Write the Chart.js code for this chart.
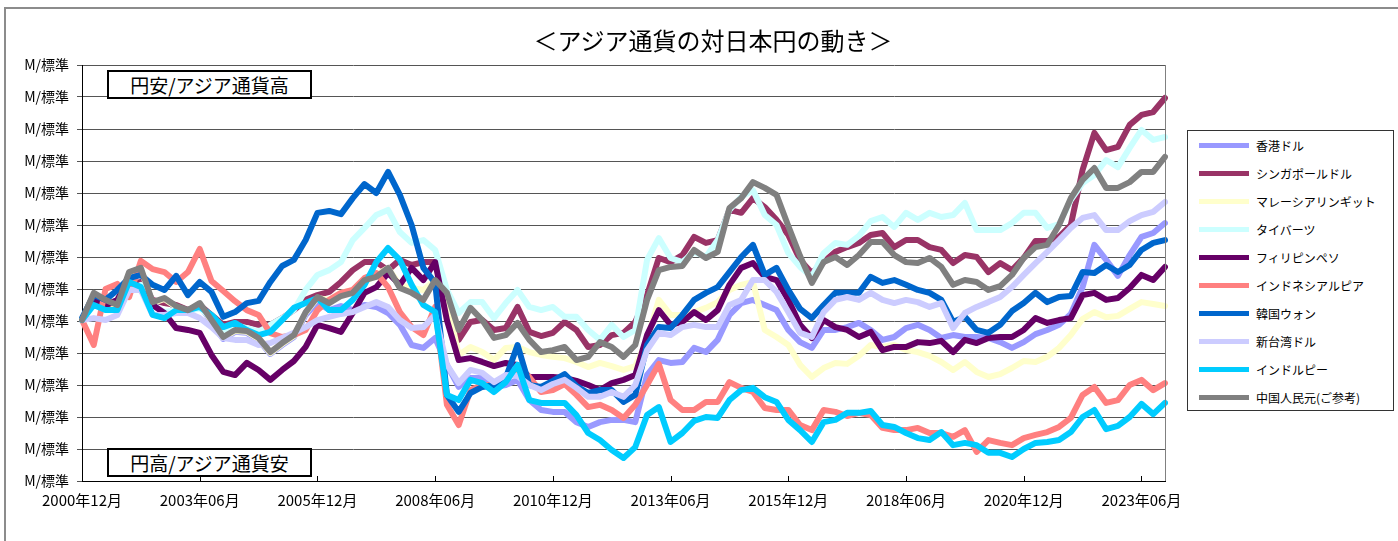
<!DOCTYPE html>
<html lang="ja">
<head>
<meta charset="utf-8">
<script src="https://cdn.jsdelivr.net/npm/chart.js@4.4.1/dist/chart.umd.min.js"></script>
<style>
body { margin: 0; background: #fff; font-family: "Noto Sans CJK JP", sans-serif; }
#wrap { position: relative; width: 1398px; height: 541px; overflow: hidden; }
#frame { position: absolute; left: 4px; top: 7px; width: 1420px; height: 620px; border: 2px solid #8c8c8c; }
#myChart { position: absolute; left: 0; top: 0; }
#title { position: absolute; left: 0; width: 1426px; top: 22px; text-align: center; font-size: 24px; color: #000; }
.note { position: absolute; left: 107px; width: 201px; height: 25px; border: 2px solid #000; background: #fff; font-size: 19px; line-height: 25px; text-align: center; color: #000; }
#legend { position: absolute; left: 1187px; top: 130px; width: 205px; height: 279px; border: 1px solid #333; background: #fff; }
.row { height: 28px; display: flex; align-items: center; font-size: 12px; color: #000; }
.swatch { width: 50px; height: 5px; margin-left: 11px; margin-right: 7px; }
</style>
</head>
<body>
<div id="wrap">
<div id="frame"></div>
<canvas id="myChart" width="1398" height="541"></canvas>
<div id="title">＜アジア通貨の対日本円の動き＞</div>
<div class="note" style="top:70px">円安/アジア通貨高</div>
<div class="note" style="top:448px">円高/アジア通貨安</div>
<div id="legend"></div>
</div>
<script>
// quarterly index values, 2000/12 = 100
var hkd = [100.3, 108.1, 105.9, 104.4, 114.7, 115.9, 105.6, 106.6, 104.1, 102.8,
105, 99.7, 94.4, 96.6, 96.3, 94.1, 89.7, 92.5, 95, 101.9,
105.9, 103.4, 104.7, 103.4, 105, 104.4, 102.5, 98.8, 92.5, 91.6,
94.7, 86.3, 79.4, 82.2, 82.2, 79.4, 80, 81.6, 75.3, 72.2,
71.6, 71.6, 68.4, 66.9, 68.4, 69.1, 69.1, 68.4, 83.1, 87.8,
86.9, 87.2, 91.6, 90.3, 94.1, 101.9, 105.6, 106.6, 105, 103.4,
97.2, 93.4, 91.6, 97.2, 97.2, 98.1, 99.4, 97.2, 94.1, 95,
97.8, 98.8, 97.2, 94.7, 95.6, 95, 95, 94.7, 93.4, 91.6,
93.4, 95.9, 97.2, 98.8, 102.2, 110.6, 123.8, 119.1, 114.1, 120.6,
126.3, 127.5, 130.6];

var sgd = [100.3, 106.6, 105, 104.1, 111.3, 112.2, 106.6, 105.6, 105, 103.4,
105, 101.9, 98.8, 99.7, 99.7, 98.8, 98.8, 100.9, 103.4, 106.6,
108.1, 109.1, 112.2, 115.9, 118.4, 118.4, 115.9, 119.1, 117.5, 118.4,
118.4, 108.1, 94.1, 99.7, 100.3, 97.2, 97.8, 104.4, 96.6, 95.3,
96.3, 99.7, 97.2, 91.9, 92.5, 95.6, 96.3, 99.7, 108.1, 119.7,
118.4, 120.6, 126.3, 124.4, 125.3, 134.7, 133.8, 138.4, 135.6, 131.6,
126.9, 119.1, 115, 118.4, 121.6, 123.1, 124.4, 126.9, 127.5, 123.1,
125.3, 125.3, 123.1, 122.2, 118.1, 120.6, 120, 115.3, 118.1, 115.9,
119.7, 125, 125, 126.3, 130, 147.2, 158.8, 153.4, 154.4, 161.3,
164.4, 165.3, 169.7];

var myr = [100.3, 108.4, 106.2, 104.7, 115, 116.2, 105.6, 106.9, 104.4, 103.1,
105.3, 100, 94.7, 96.9, 96.6, 94.4, 90, 92.8, 95.3, 102.5,
107.2, 106.6, 108.8, 109.7, 112.2, 114.4, 116.6, 111.3, 110.3, 109.7,
112.8, 106.6, 89.4, 91.9, 90.3, 87.8, 91.6, 91.9, 90.3, 89.4,
88.8, 88.4, 87.2, 85.6, 86.9, 85.9, 84.7, 85.9, 94.1, 106.6,
101.9, 101.9, 102.8, 104.1, 105.9, 109.7, 111.3, 112.2, 97.2, 95,
92.5, 86.3, 82.5, 85.3, 86.9, 86.6, 89.1, 92.5, 91.9, 92.5,
90.9, 90.3, 89.1, 87.2, 84.7, 87.2, 84.1, 82.5, 83.4, 85.3,
87.5, 87.2, 88.8, 91.6, 95.6, 100.6, 102.8, 101.2, 101.6, 103.8,
105.9, 105.3, 104.7];

var thb = [100.3, 105, 103.4, 103.4, 109.1, 111.3, 105, 102.8, 103.4, 102.8,
104.1, 100.9, 97.2, 98.8, 97.8, 96.6, 98.8, 100.9, 103.4, 109.7,
114.4, 115.9, 118.4, 125.3, 129.1, 133.1, 134.7, 127.8, 124.4, 125.3,
122.2, 109.7, 102.5, 105.9, 105.9, 100.9, 105.6, 109.7, 104.4, 103.4,
104.4, 101.3, 101.3, 97.2, 94.1, 98.8, 95, 97.2, 119.1, 125.9,
119.7, 118.4, 121.6, 120, 125.3, 134.7, 138.8, 140.9, 133.1, 130,
121.2, 116.9, 113.8, 121.2, 124.4, 123.8, 126.6, 131.2, 132.5, 129.4,
133.8, 131.6, 133.8, 132.5, 133.1, 136.9, 128.4, 128.4, 128.4, 130.6,
133.8, 133.8, 129.1, 130.3, 137.8, 143.1, 145.6, 150.3, 148.1, 154.1,
159.7, 156.6, 157.5];

var php = [100.3, 106.6, 105, 106.6, 113.4, 109.7, 105, 102.5, 97.8, 97.2,
96.3, 89.4, 84.1, 83.1, 86.9, 84.7, 81.6, 84.7, 87.5, 91.9,
98.8, 97.8, 96.6, 102.5, 108.8, 110.6, 115, 111.3, 116.6, 112.8,
118.4, 100.3, 87.8, 88.4, 87.2, 85.9, 86.9, 86.3, 82.5, 82.5,
82.5, 82.2, 81.3, 80, 78.4, 80.6, 81.6, 83.1, 95.6, 103.4,
98.8, 99.7, 102.8, 100.3, 103.4, 111.3, 116.6, 118.1, 113.8, 112.8,
106.6, 98.8, 94.7, 100.3, 98.1, 97.2, 95, 96.6, 90.9, 91.9,
91.9, 93.4, 93.1, 93.8, 90.3, 94.1, 93.1, 94.7, 95, 95,
97.2, 100.9, 99.4, 100.3, 100.9, 108.1, 108.8, 106.6, 107.2, 110.3,
114.4, 112.8, 116.9];

var idr = [100.3, 92.5, 110, 111.6, 107.5, 118.8, 116.2, 115.3, 112.2, 115.3,
122.5, 112.5, 109.4, 106.2, 103.4, 101.9, 96.2, 95, 95.6, 97.2,
103.4, 106.6, 108.8, 109.7, 113.4, 115, 110.6, 102.8, 98.1, 95.6,
104.4, 73.8, 67.5, 78.4, 80, 80, 82.2, 85.3, 82.5, 77.8,
78.4, 80.3, 76.9, 73.1, 73.8, 72.2, 69.7, 73.8, 80, 86.6,
75.3, 72.2, 72.2, 74.7, 74.7, 80.9, 79.1, 77.8, 72.8, 72.2,
72.2, 67.5, 65.9, 72.2, 71.6, 70.3, 71.3, 70.6, 66.6, 65.9,
65.9, 66.6, 65, 65, 63.8, 65.9, 59.1, 62.8, 61.9, 61.2,
63.4, 64.4, 65.3, 66.9, 69.7, 76.9, 79.4, 74.4, 75.3, 80,
81.6, 78.4, 80.6];

var krw = [100.9, 108.1, 106.6, 109.7, 113.4, 114.4, 111.3, 109.7, 114.1, 108.1,
112.2, 109.1, 101.3, 102.8, 105.6, 106.3, 112.2, 117.2, 119.1, 125.3,
133.8, 134.4, 133.4, 138.4, 142.8, 140, 146.6, 139.4, 130, 116.6,
111.9, 76.9, 71.6, 77.5, 79.4, 80, 82.2, 92.5, 80, 79.4,
81.3, 83.4, 79.7, 77.5, 78.4, 78.4, 74.7, 76.9, 92.5, 98.1,
97.8, 101.9, 106.6, 108.8, 110.6, 115.3, 120, 123.8, 114.4, 116.6,
109.7, 103.8, 100.9, 105, 108.8, 108.8, 108.8, 113.8, 111.9, 112.8,
111.3, 109.7, 108.8, 106.6, 99.7, 101.3, 97.2, 96.3, 98.8, 103.1,
105.6, 108.8, 105.9, 107.5, 107.8, 115.3, 115, 117.5, 115.3, 117.5,
122.2, 124.4, 125.3];

var twd = [100.3, 100.9, 100.3, 101.9, 109.7, 109.7, 101.9, 101.9, 102.5, 102.5,
100.9, 98.1, 94.7, 94.1, 94.1, 92.5, 93.1, 94.7, 96.3, 98.1,
100.3, 101.3, 102.2, 102.8, 104.4, 105.9, 104.4, 100.3, 97.8, 98.1,
101.9, 86.3, 80.6, 84.7, 83.8, 80.9, 83.1, 82.8, 80, 78.4,
80.3, 81.6, 79.1, 76.3, 76.3, 77.8, 76.3, 80, 90.9, 96.3,
95.6, 98.1, 98.8, 98.1, 98.1, 105, 106.6, 112.8, 112.8, 109.1,
102.8, 96.3, 95, 102.8, 106.6, 107.5, 106.6, 108.8, 106.6, 105.6,
106.6, 105.9, 104.4, 105.6, 97.8, 102.5, 104.4, 105.9, 107.5, 110.6,
114.4, 118.1, 121.6, 125.3, 129.1, 132.2, 133.1, 128.4, 128.4, 131.2,
133.1, 134.1, 137.2];

var inr = [100.3, 105, 103.4, 103.4, 112.2, 110.6, 101.9, 100.9, 103.4, 103.4,
104.4, 101.9, 98.1, 99.4, 97.2, 95.6, 96.6, 100.3, 104.1, 105.6,
107.2, 103.4, 103.4, 106.6, 111.3, 118.4, 122.8, 119.1, 111.3, 105,
102.8, 76.9, 75.3, 81.6, 80.6, 77.8, 80.9, 86.3, 75.3, 74.4,
74.4, 74.4, 70.6, 65, 62.8, 59.7, 57.2, 60.6, 70.6, 73.1,
62.2, 65, 68.8, 70, 69.7, 75.3, 78.4, 79.1, 76.2, 74.7,
69.1, 65.9, 62.2, 68.4, 69.1, 71.3, 71.3, 71.9, 67.5, 66.9,
65, 63.4, 62.8, 65.3, 61.2, 61.9, 61.2, 58.8, 58.8, 57.5,
60, 61.9, 62.2, 62.8, 65.3, 70, 72.2, 66.2, 67.2, 70,
74.1, 70.9, 74.4];

var cny = [100.3, 108.8, 106.6, 105, 115.3, 116.6, 105.9, 107.2, 104.7, 103.4,
105.6, 100.3, 95, 97.2, 96.9, 94.7, 90.3, 93.1, 95.6, 102.8,
107.5, 105.6, 107.8, 108.8, 112.8, 113.8, 116.6, 110.3, 108.8, 106.6,
112.8, 108.8, 97.2, 104.1, 100.3, 94.7, 95.6, 99.4, 94.1, 90.3,
90.9, 91.9, 87.8, 88.8, 93.4, 91.9, 88.8, 92.5, 106.6, 115.9,
116.9, 117.2, 122.2, 119.7, 121.6, 135.3, 138.4, 143.4, 141.6, 139.4,
129.7, 120.3, 111.9, 118.4, 120, 117.5, 120.6, 124.7, 124.7, 120.6,
118.4, 118.1, 119.7, 116.9, 111.3, 112.8, 112.2, 109.7, 110.9, 114.4,
119.7, 123.1, 123.8, 130, 138.4, 144.1, 147.8, 141.6, 141.6, 143.4,
146.6, 146.6, 151.3];

var Name = ['香港ドル', 'シンガポールドル', 'マレーシアリンギット', 'タイバーツ', 'フィリピンペソ',
'インドネシアルピア', '韓国ウォン', '新台湾ドル', 'インドルピー', '中国人民元(ご参考)'];
var Color = ['#9999FF', '#993366', '#FFFFCC', '#CCFFFF', '#660066',
'#FF8080', '#0066CC', '#CCCCFF', '#00CCFF', '#808080'];
var Series = [hkd, sgd, myr, thb, php, idr, krw, twd, inr, cny];

var tickLabels = ['2000年12月', '2003年06月', '2005年12月', '2008年06月', '2010年12月',
'2013年06月', '2015年12月', '2018年06月', '2020年12月', '2023年06月'];

// quarter labels from 2000年12月
var Labels = [];
for (var i = 0; i < hkd.length; i++) {
var m = 11 + 3 * i;
Labels.push((2000 + Math.floor(m / 12)) + '年' + String(m % 12 + 1).padStart(2, '0') + '月');
}

// legend box
var legend = document.getElementById('legend');
Name.forEach(function (n, i) {
var row = document.createElement('div');
row.className = 'row';
row.innerHTML = '<div class="swatch" style="background:' + Color[i] + '"></div><span>' + n + '</span>';
legend.appendChild(row);
});

var frame = {
id: 'frame',
afterDraw: function (chart) {
var ctx = chart.ctx, a = chart.chartArea, x = chart.scales.x;
ctx.save();
ctx.lineWidth = 1;
ctx.strokeStyle = '#808080';
ctx.beginPath();
ctx.moveTo(a.right + 0.5, a.top);
ctx.lineTo(a.right + 0.5, a.bottom);
ctx.stroke();
ctx.strokeStyle = '#000';
ctx.beginPath();
Labels.forEach(function (l, i) {
if (tickLabels.indexOf(l) >= 0) {
var px = Math.round(x.getPixelForValue(i)) + 0.5;
ctx.moveTo(px, a.bottom);
ctx.lineTo(px, a.bottom - 5);
}
});
ctx.stroke();
ctx.restore();
}
};

Chart.defaults.font.family = '"Noto Sans CJK JP", sans-serif';

var lineChart = new Chart('myChart', {
type: 'line',
data: {
labels: Labels,
datasets: Series.map(function (d, i) {
return {
label: Name[i],
data: d,
borderColor: Color[i],
backgroundColor: Color[i],
borderWidth: 6,
pointRadius: 0,
tension: 0,
borderJoinStyle: 'round',
borderCapStyle: 'round',
order: Series.length - i
};
})
},
options: {
responsive: false,
animation: false,
devicePixelRatio: 1,
layout: { padding: { left: 0, right: 233, top: 65, bottom: 0 } },
plugins: { legend: { display: false }, tooltip: { enabled: false } },
scales: {
x: {
ticks: {
autoSkip: false, maxRotation: 0, padding: 10, color: '#000', font: { size: 15 },
callback: function (v) {
var l = this.getLabelForValue(v);
return tickLabels.indexOf(l) >= 0 ? l : null;
}
},
grid: { drawOnChartArea: false, drawTicks: false },
border: { color: '#000', width: 1 },
afterFit: function (s) { s.height = 60; }
},
y: {
min: 50, max: 180,
ticks: { stepSize: 10, padding: 8, color: '#000', font: { size: 14 },
callback: function () { return 'M/標準'; } },
grid: { color: '#555', tickLength: 5 },
border: { color: '#000', width: 1 },
afterFit: function (s) { s.width = 82; }
}
}
},
plugins: [frame]
});
</script>
</body>
</html>
